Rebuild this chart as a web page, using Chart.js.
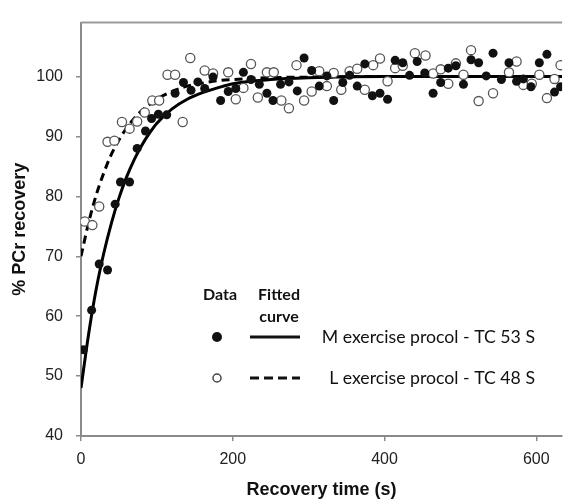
<!DOCTYPE html>
<html>
<head>
<meta charset="utf-8">
<script src="https://cdn.jsdelivr.net/npm/chart.js@4"></script>
<style>
  body { margin: 0; background: #fff; }
  #wrap { width: 568px; height: 504px; }
</style>
</head>
<body>
<div id="wrap"><canvas id="myChart" width="568" height="504"></canvas></div>
<script>
// data
const mData = [[3,54.4],[14,61.0],[24,68.7],[35,67.7],[45,78.7],[52,82.4],[64,82.4],[74,88.0],[85,90.9],[93,93.0],
  [102,93.7],[113,93.6],[124,97.2],[135,99.0],[145,97.7],[154,99.1],[163,98.0],[174,99.9],[184,96.0],[194,97.5],
  [204,98.0],[214,100.7],[224,99.5],[235,98.7],[245,97.2],[253,96.0],[263,98.7],[274,99.1],[285,97.6],[294,103.1],
  [304,101.0],[314,98.4],[324,100.1],[333,96.0],[345,99.0],[354,100.2],[364,98.4],[374,102.1],[384,96.8],[394,97.2],
  [404,96.2],[414,102.7],[424,102.3],[433,100.2],[443,102.5],[453,100.6],[464,97.2],[474,99.0],[484,101.4],[494,101.8],
  [504,98.7],[514,102.8],[524,102.3],[534,100.1],[543,103.9],[554,99.5],[564,102.3],[574,99.2],[583,99.6],[593,98.3],
  [604,102.3],[614,103.7],[624,97.4],[632,98.3]];
const lData = [[5,75.8],[15,75.2],[24,78.3],[35,89.1],[44,89.3],[54,92.4],[64,91.3],[74,92.5],[84,94.0],[94,96.0],
  [103,96.0],[114,100.3],[124,100.3],[134,92.4],[144,103.1],[163,101.0],[174,100.5],[194,100.7],[204,96.2],[214,98.1],
  [224,102.1],[233,96.5],[245,100.7],[254,100.7],[264,96.0],[274,94.7],[284,101.9],[294,96.0],[304,97.5],[314,100.9],
  [324,98.4],[333,100.6],[343,97.8],[354,100.9],[364,101.3],[374,97.8],[385,101.9],[394,103.0],[404,99.2],[414,101.4],
  [424,101.8],[440,103.9],[454,103.5],[464,100.5],[474,101.2],[484,98.8],[494,102.2],[504,100.3],[514,104.4],[524,95.9],
  [543,97.2],[564,100.7],[574,102.5],[583,98.6],[594,98.8],[604,100.3],[614,96.4],[624,99.6],[632,101.9]];

const fitTimes = [0,10,20,30,40,50,60,70,80,90,100,120,140,160,180,200,250,300,400,500,634];
const mFit = [48,57,64.5,70.5,75.5,79.7,83.2,86.1,88.5,90.5,92.2,94.6,96.2,97.3,98.1,98.8,99.5,99.8,100,100,100];
const lFit = [70,75.6,80.2,83.9,87,89.4,91.4,93,94.3,95.3,96.2,97.5,98.4,98.9,99.3,99.5,99.8,99.9,100,100,100];

const xTicks = [0,200,400,600];
const yTicks = [40,50,60,70,80,90,100];
const mLabel = 'M exercise procol - TC 53 S';
const lLabel = 'L exercise procol - TC 48 S';

const toPts = arr => arr.map(p => ({x: p[0], y: p[1]}));
const fitPts = vals => fitTimes.map((t, i) => ({x: t, y: vals[i]}));

// legend box + top frame line
const legendPlugin = {
  id: 'boxLegend',
  afterDatasetsDraw(chart) {
    const c = chart.ctx, a = chart.chartArea;
    c.save();
    c.strokeStyle = '#9a9a9a';
    c.lineWidth = 2;
    c.beginPath();
    c.moveTo(a.left, a.top);
    c.lineTo(a.right, a.top);
    c.stroke();

    c.fillStyle = '#111';
    c.textBaseline = 'middle';
    c.textAlign = 'center';
    c.font = 'bold 16px Lato';
    c.fillText('Data', 220, 295);
    c.fillText('Fitted', 279, 295);
    c.fillText('curve', 279, 317);

    c.beginPath();
    c.arc(217, 337, 5, 0, Math.PI * 2);
    c.fill();
    c.strokeStyle = '#111';
    c.lineWidth = 3;
    c.beginPath();
    c.moveTo(250, 337); c.lineTo(300, 337);
    c.stroke();

    c.beginPath();
    c.arc(217, 378, 4, 0, Math.PI * 2);
    c.lineWidth = 1.5;
    c.strokeStyle = '#444';
    c.stroke();
    c.setLineDash([9, 5]);
    c.lineWidth = 3;
    c.strokeStyle = '#111';
    c.beginPath();
    c.moveTo(250, 378); c.lineTo(300, 378);
    c.stroke();
    c.setLineDash([]);

    c.font = '17.7px Lato';
    c.textAlign = 'right';
    c.fillText(chart.data.datasets[0].label, 535, 337);
    c.fillText(chart.data.datasets[1].label, 535, 378);
    c.restore();
  }
};

const ctx = document.getElementById('myChart').getContext('2d');
let myChart = new Chart(ctx, {
  type: 'scatter',
  data: {
    datasets: [{
      label: mLabel,
      data: toPts(mData),
      backgroundColor: '#111',
      borderColor: '#111',
      pointRadius: 4.5,
      pointBorderWidth: 0
    }, {
      label: lLabel,
      data: toPts(lData),
      backgroundColor: '#fff',
      borderColor: '#555',
      pointRadius: 4.6,
      pointBorderWidth: 1.3
    }, {
      label: 'M fit',
      data: fitPts(mFit),
      showLine: true,
      borderColor: '#000',
      borderWidth: 3,
      pointRadius: 0,
      cubicInterpolationMode: 'monotone'
    }, {
      label: 'L fit',
      data: fitPts(lFit),
      showLine: true,
      borderColor: '#000',
      borderWidth: 3,
      borderDash: [8, 5],
      pointRadius: 0,
      cubicInterpolationMode: 'monotone'
    }]
  },
  options: {
    responsive: false,
    animation: false,
    layout: { padding: { top: 13, left: 0, right: 0, bottom: 0 } },
    plugins: { legend: { display: false }, tooltip: { enabled: false } },
    scales: {
      x: {
        type: 'linear', min: 0, max: 634,
        afterBuildTicks: s => { s.ticks = xTicks.map(v => ({value: v})); },
        afterFit: s => { s.height = 68; },
        ticks: { font: { family: 'Liberation Sans', size: 16 }, color: '#222', padding: 9, maxRotation: 0 },
        grid: { drawOnChartArea: false, tickLength: 5, color: '#8a8a8a', lineWidth: 1.5 },
        border: { color: '#8a8a8a', width: 2 },
        title: { display: true, text: 'Recovery time (s)', color: '#111',
                 font: { family: 'Liberation Sans', size: 18, weight: 'bold' }, padding: { top: 4, bottom: 3 } }
      },
      y: {
        min: 40, max: 109,
        afterBuildTicks: s => { s.ticks = yTicks.map(v => ({value: v})); },
        afterFit: s => { s.width = 81; },
        ticks: { font: { family: 'Liberation Sans', size: 16 }, color: '#222', padding: 13 },
        grid: { drawOnChartArea: false, tickLength: 5, color: '#8a8a8a', lineWidth: 1.5 },
        border: { color: '#8a8a8a', width: 2 },
        title: { display: true, text: '% PCr recovery', color: '#111',
                 font: { family: 'Liberation Sans', size: 18, weight: 'bold' }, padding: { top: 9, bottom: 4 } }
      }
    }
  },
  plugins: [legendPlugin]
});
</script>
</body>
</html>
